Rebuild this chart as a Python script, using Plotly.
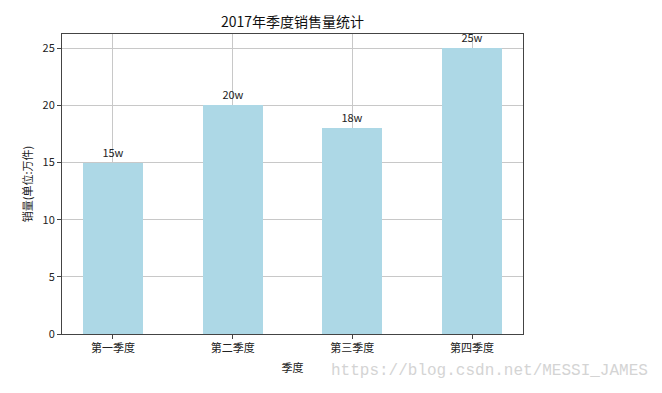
import plotly.graph_objects as go

categories = ["第一季度", "第二季度", "第三季度", "第四季度"]
sales = [15, 20, 18, 25]
labels = ["15w", "20w", "18w", "25w"]

FONT = "Noto Sans CJK SC, DejaVu Sans, sans-serif"

fig = go.Figure()
fig.add_trace(go.Bar(
    x=list(range(len(categories))), y=sales, width=0.5,
    marker=dict(color="#ADD8E6", line=dict(width=0)),
    text=labels, textposition="outside", cliponaxis=False,
    textfont=dict(size=11, color="#222222", family=FONT),
))

axis_common = dict(
    showline=True, linecolor="#444444", linewidth=1, mirror=True,
    ticks="outside", ticklen=4, tickcolor="#444444",
    showgrid=True, gridcolor="#c8c8c8", gridwidth=1,
    tickfont=dict(size=11, color="#222222", family=FONT),
    zeroline=False,
)

fig.update_xaxes(
    tickmode="array", tickvals=list(range(len(categories))), ticktext=categories,
    range=[-0.425, 3.425],
    title=dict(text="季度", font=dict(size=11, color="#222222", family=FONT), standoff=10),
    **axis_common,
)
fig.update_yaxes(
    range=[0, 26.25], tickvals=[0, 5, 10, 15, 20, 25],
    title=dict(text="销量(单位:万件)", font=dict(size=11, color="#222222", family=FONT), standoff=7),
    **axis_common,
)

fig.add_annotation(
    text="https://blog.csdn.net/MESSI_JAMES", xref="paper", yref="paper",
    x=1.2755, y=-0.123, xanchor="right", yanchor="middle", showarrow=False,
    font=dict(family="Liberation Mono, monospace", size=16, color="#d4d4d4"),
)

fig.update_layout(
    width=654, height=385,
    margin=dict(l=54, r=139, t=26, b=59, autoexpand=False),
    paper_bgcolor="white", plot_bgcolor="white",
    title=dict(text="2017年季度销售量统计", x=0.5, xref="paper", xanchor="center",
               y=1, yref="paper", yanchor="bottom", pad=dict(b=7),
               font=dict(size=14, color="#111111", family=FONT)),
    showlegend=False, bargap=0,
)

fig.write_html("out.html")
